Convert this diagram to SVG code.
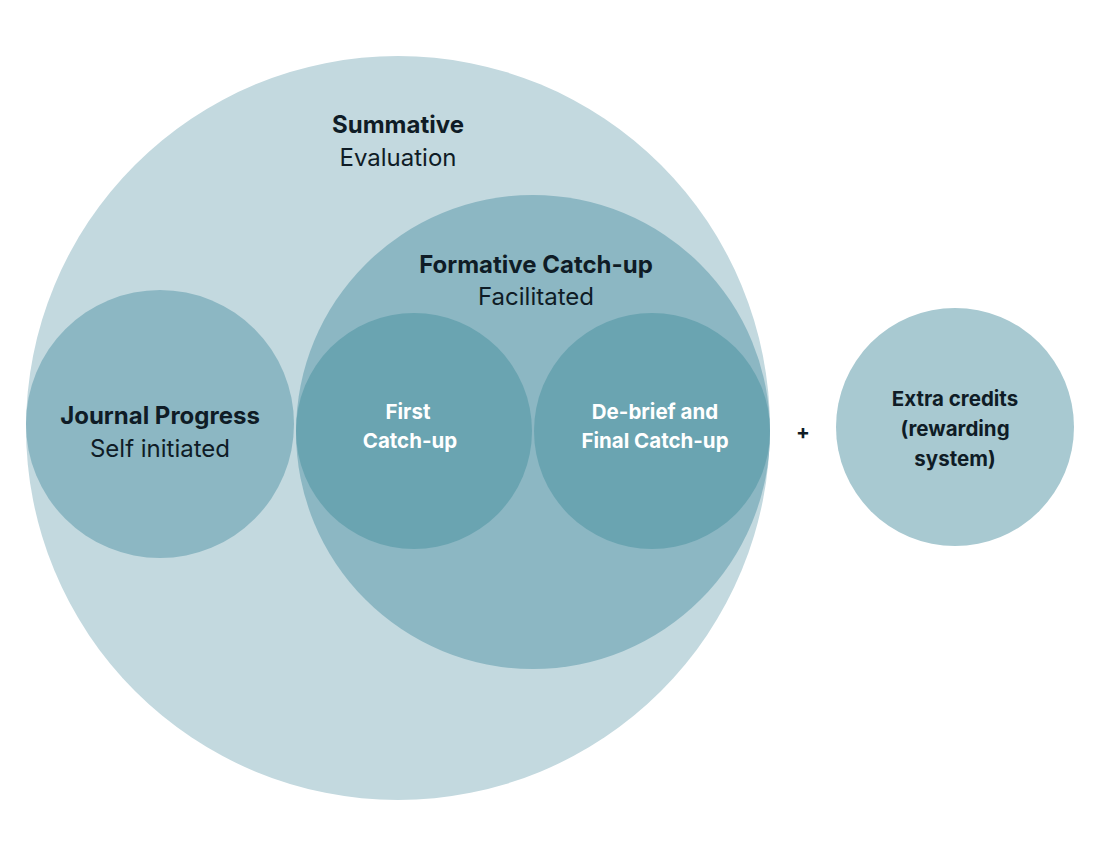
<svg xmlns="http://www.w3.org/2000/svg" width="1118" height="847" viewBox="0 0 1118 847">
<style>
text{font-family:Inter,"DejaVu Sans",sans-serif;text-anchor:middle;fill:#0f1c26}
.b{font-weight:700}
.big{font-size:24px}
.reg{font-size:24px;font-weight:400}
.w{fill:#ffffff;font-weight:700;font-size:20.5px}
.m{font-size:20.5px;font-weight:700}
</style>
<rect width="1118" height="847" fill="#ffffff"/>
<g id="summative">
<circle cx="398" cy="428" r="372" fill="#c3d9df"/>
<text class="big b" x="398" y="133">Summative</text>
<text class="reg" x="398" y="166">Evaluation</text>
</g>
<g id="journal">
<circle cx="160" cy="424" r="134" fill="#8cb7c3"/>
<text class="big b" x="160" y="424">Journal Progress</text>
<text class="reg" x="160" y="457">Self initiated</text>
</g>
<g id="formative">
<circle cx="533" cy="432" r="237" fill="#8cb7c3"/>
<text class="big b" x="536" y="273">Formative Catch-up</text>
<text class="reg" x="536" y="305">Facilitated</text>
</g>
<g id="first">
<circle cx="414" cy="431" r="118" fill="#6aa4b1"/>
<text class="w" x="408" y="419">First</text>
<text class="w" x="410" y="448">Catch-up</text>
</g>
<g id="debrief">
<circle cx="652" cy="431" r="118" fill="#6aa4b1"/>
<text class="w" x="655" y="419">De-brief and</text>
<text class="w" x="655" y="448">Final Catch-up</text>
</g>
<g id="plus">
<text class="m" x="803" y="439">+</text>
</g>
<g id="extra">
<circle cx="955" cy="427" r="119" fill="#a8c9d1"/>
<text class="m" x="955" y="406">Extra credits</text>
<text class="m" x="955" y="436">(rewarding</text>
<text class="m" x="955" y="466">system)</text>
</g>
<g id="connectors"/>
</svg>
